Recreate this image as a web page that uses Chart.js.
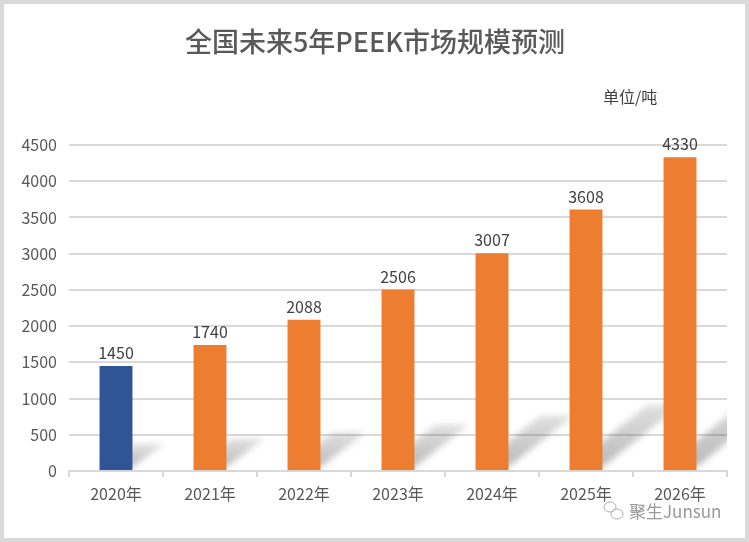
<!DOCTYPE html>
<html>
<head>
<meta charset="utf-8">
<script src="https://cdn.jsdelivr.net/npm/chart.js@4"></script>
<style>
  html, body { margin: 0; padding: 0; background: #fff; }
  #wrap { width: 749px; height: 542px; position: relative; }
</style>
</head>
<body>
<div id="wrap"><canvas id="peek-chart" width="749" height="542"></canvas></div>
<script>
const years = ["2020年", "2021年", "2022年", "2023年", "2024年", "2025年", "2026年"];
const tons = [1450, 1740, 2088, 2506, 3007, 3608, 4330];
const barColors = ["#2F5597", "#ED7D31", "#ED7D31", "#ED7D31", "#ED7D31", "#ED7D31", "#ED7D31"];
const yTicks = [0, 500, 1000, 1500, 2000, 2500, 3000, 3500, 4000, 4500];

const chartTitle = "全国未来5年PEEK市场规模预测";
const unitText = "单位/吨";
const watermark = "聚生Junsun";

const cjk = "'Noto Sans CJK SC', 'Noto Sans', sans-serif";

/* ==================================== */
/*        frame, title, unit text       */
/* ==================================== */
const decorPlugin = {
  id: "decor",
  beforeDraw(chart) {
    const ctx = chart.ctx;
    ctx.save();
    ctx.fillStyle = "#fff";
    ctx.fillRect(0, 0, chart.width, chart.height);
    ctx.restore();
  },
  afterDraw(chart) {
    const ctx = chart.ctx;
    ctx.save();
    ctx.strokeStyle = "#d9d9d9";
    ctx.lineWidth = 4;
    ctx.strokeRect(2, 2, chart.width - 4, chart.height - 4);

    ctx.fillStyle = "#595959";
    ctx.font = "500 27px " + cjk;
    ctx.textAlign = "center";
    ctx.textBaseline = "middle";
    ctx.fillText(chartTitle, 375, 42);

    ctx.fillStyle = "#404040";
    ctx.font = "16px " + cjk;
    ctx.textAlign = "left";
    ctx.fillText(unitText, 603, 97);

    // watermark
    ctx.strokeStyle = "#b0b0b0";
    ctx.lineWidth = 1;
    ctx.beginPath();
    ctx.ellipse(610, 507, 6, 5, 0, 0, Math.PI * 2);
    ctx.stroke();
    ctx.beginPath();
    ctx.ellipse(617, 514, 6, 5, 0, 0, Math.PI * 2);
    ctx.stroke();
    ctx.fillStyle = "#9a9a9a";
    ctx.font = "17px " + cjk;
    ctx.fillText(watermark, 629, 512);
    ctx.restore();
  },
};

/* ==================================== */
/*      bar shadows + value labels      */
/* ==================================== */
const barExtrasPlugin = {
  id: "barExtras",
  beforeDatasetsDraw(chart) {
    const ctx = chart.ctx;
    const area = chart.chartArea;
    const bars = chart.getDatasetMeta(0).data;
    ctx.save();
    ctx.beginPath();
    ctx.rect(area.left, area.top, area.right - area.left, area.bottom - area.top);
    ctx.clip();
    ctx.filter = "blur(3px)";
    bars.forEach((bar) => {
      const h = bar.base - bar.y;
      const dy = h * 0.25;
      const dx = h * 0.3;
      const xl = bar.x - bar.width / 2;
      const xr = bar.x + bar.width / 2;
      const g = ctx.createLinearGradient(0, bar.base, 0, bar.base - dy);
      g.addColorStop(0, "rgba(0,0,0,0.28)");
      g.addColorStop(1, "rgba(0,0,0,0.12)");
      ctx.fillStyle = g;
      ctx.beginPath();
      ctx.moveTo(xl, bar.base - 3);
      ctx.lineTo(xr, bar.base - 3);
      ctx.lineTo(xr + dx, bar.base - dy);
      ctx.lineTo(xl + dx, bar.base - dy);
      ctx.closePath();
      ctx.fill();
    });
    ctx.restore();
  },
  afterDatasetsDraw(chart) {
    const ctx = chart.ctx;
    const bars = chart.getDatasetMeta(0).data;
    ctx.save();
    ctx.fillStyle = "#404040";
    ctx.font = "16px " + cjk;
    ctx.textAlign = "center";
    ctx.textBaseline = "bottom";
    bars.forEach((bar, i) => {
      ctx.fillText(String(tons[i]), bar.x, bar.y - 5);
    });
    ctx.restore();
  },
};

const peekChart = new Chart(document.querySelector("#peek-chart"), {
  type: "bar",
  data: {
    labels: years,
    datasets: [
      {
        label: "PEEK",
        data: tons,
        backgroundColor: barColors,
        barPercentage: 0.35,
        categoryPercentage: 1,
      },
    ],
  },
  options: {
    responsive: false,
    animation: false,
    layout: {
      padding: { top: 145, right: 22, bottom: 0, left: 0 },
    },
    plugins: {
      legend: { display: false },
      title: { display: false },
      tooltip: { enabled: false },
    },
    scales: {
      x: {
        grid: {
          drawOnChartArea: false,
          drawTicks: true,
          tickLength: 6,
          color: "#d9d9d9",
          lineWidth: 2,
        },
        border: { color: "#d9d9d9", width: 2 },
        ticks: {
          color: "#595959",
          font: { family: cjk, size: 16 },
          padding: 7,
        },
        afterFit(scale) {
          scale.height = 71;
        },
      },
      y: {
        min: 0,
        max: 4500,
        afterBuildTicks(scale) {
          scale.ticks = yTicks.map((v) => ({ value: v }));
        },
        grid: {
          color: "#d9d9d9",
          lineWidth: 2,
          drawTicks: false,
        },
        border: { display: false },
        ticks: {
          color: "#595959",
          font: { family: cjk, size: 16 },
          padding: 12,
          callback: (v) => String(v),
        },
        afterFit(scale) {
          scale.width = 69;
        },
      },
    },
  },
  plugins: [decorPlugin, barExtrasPlugin],
});
</script>
</body>
</html>
